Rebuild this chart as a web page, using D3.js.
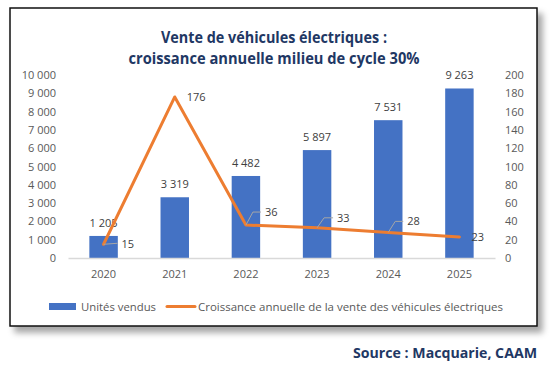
<!DOCTYPE html>
<html>
<head>
<meta charset="utf-8">
<script src="https://cdn.jsdelivr.net/npm/d3@7"></script>
<style>
  body { margin: 0; background: #fff; }
  text { font-family: "Open Sans", "Noto Sans", sans-serif; }
</style>
</head>
<body>
<svg id="chart" width="555" height="371"></svg>
<script>
// chart data
var years = ["2020", "2021", "2022", "2023", "2024", "2025"];
var units = [1205, 3319, 4482, 5897, 7531, 9263];
var growth = [15, 176, 36, 33, 28, 23];
var leftTicks = [0, 1000, 2000, 3000, 4000, 5000, 6000, 7000, 8000, 9000, 10000];
var rightTicks = [0, 20, 40, 60, 80, 100, 120, 140, 160, 180, 200];

var titleLines = ["Vente de véhicules électriques :", "croissance annuelle milieu de cycle 30%"];
var legendLabels = ["Unités vendus", "Croissance annuelle de la vente des véhicules électriques"];
var sourceText = "Source : Macquarie, CAAM";

var navy = "#1f3864", blue = "#4472c4", orange = "#ed7d31", grey = "#595959";

var svg = d3.select("#chart");
var defs = svg.append("defs");
var filt = defs.append("filter").attr("id", "shadow")
    .attr("x", "-5%").attr("y", "-5%").attr("width", "115%").attr("height", "120%");
filt.append("feDropShadow")
    .attr("dx", 5).attr("dy", 6).attr("stdDeviation", 3)
    .attr("flood-color", "#000").attr("flood-opacity", 0.35);

// frame
svg.append("rect")
    .attr("x", 10).attr("y", 8)
    .attr("width", 527).attr("height", 318)
    .attr("fill", "#fff")
    .attr("stroke", "#111")
    .attr("stroke-width", 1.5)
    .attr("filter", "url(#shadow)");

// title
var widths = [226, 291];
svg.selectAll(".title")
    .data(titleLines)
  .enter().append("text")
    .attr("class", "title")
    .attr("x", 274)
    .attr("y", function(d, i) { return 43 + i * 21; })
    .attr("text-anchor", "middle")
    .attr("textLength", function(d, i) { return widths[i]; })
    .attr("lengthAdjust", "spacingAndGlyphs")
    .style("font-size", "16px")
    .style("font-weight", "bold")
    .style("fill", navy)
    .text(function(d) { return d; });

// scales
var x = d3.scaleBand().domain(years).range([68, 495]).paddingInner(0.6).paddingOuter(0.3);
var yL = d3.scaleLinear().domain([0, 10000]).range([258, 75]);
var yR = d3.scaleLinear().domain([0, 200]).range([258, 75]);
var cx = function(i) { return x(years[i]) + x.bandwidth() / 2; };

var fmt = function(v) { return d3.format(",")(v).replace(/,/g, " "); };

// left axis
var axL = svg.append("g").attr("transform", "translate(61,0)")
    .call(d3.axisLeft(yL).tickValues(leftTicks).tickSize(0).tickPadding(5).tickFormat(fmt));
axL.select(".domain").remove();
axL.selectAll("text").style("font-size", "11px").style("fill", grey)
    .style("font-family", "'Open Sans', sans-serif");

// right axis
var axR = svg.append("g").attr("transform", "translate(500,0)")
    .call(d3.axisRight(yR).tickValues(rightTicks).tickSize(0).tickPadding(5));
axR.select(".domain").remove();
axR.selectAll("text").style("font-size", "11px").style("fill", grey)
    .style("font-family", "'Open Sans', sans-serif");

// bars
svg.append("g").selectAll("rect")
    .data(units)
  .enter().append("rect")
    .attr("x", function(d, i) { return x(years[i]); })
    .attr("y", function(d) { return yL(d); })
    .attr("width", x.bandwidth())
    .attr("height", function(d) { return yL(0) - yL(d); })
    .attr("fill", blue);

// bar labels
svg.append("g").selectAll("text")
    .data(units)
  .enter().append("text")
    .attr("x", function(d, i) { return cx(i); })
    .attr("y", function(d) { return yL(d) - 9; })
    .attr("text-anchor", "middle")
    .style("font-size", "11px")
    .style("fill", "#404040")
    .text(function(d) { return fmt(d); });

// x axis
var axB = svg.append("g").attr("transform", "translate(0,258)")
    .call(d3.axisBottom(x).tickSize(0).tickPadding(12));
axB.select(".domain").attr("stroke", "#d9d9d9").attr("stroke-width", 1.5);
axB.selectAll("text").style("font-size", "11px").style("fill", grey)
    .style("font-family", "'Open Sans', sans-serif");

// growth line
var line = d3.line()
    .x(function(d, i) { return cx(i); })
    .y(function(d) { return yR(d); });
svg.append("path")
    .datum(growth)
    .attr("d", line)
    .attr("fill", "none")
    .attr("stroke", orange)
    .attr("stroke-width", 3)
    .attr("stroke-linejoin", "round")
    .attr("stroke-linecap", "round");

// line labels with leader lines (offsets as in the original excel chart)
var lab = [
  {dx: 18, dy: 0, lead: "h"},
  {dx: 12, dy: 0, lead: null},
  {dx: 19, dy: -13, lead: "b"},
  {dx: 20, dy: -10, lead: "b"},
  {dx: 19, dy: -11, lead: "b"},
  {dx: 12, dy: 0, lead: null}
];
var lg = svg.append("g");
growth.forEach(function(v, i) {
  var px = cx(i), py = yR(v), o = lab[i];
  if (o.lead == "h") {
    lg.append("path").attr("d", "M" + px + "," + py + "L" + (px + o.dx - 4) + "," + (py - 1))
      .attr("stroke", "#a6a6a6").attr("fill", "none");
  } else if (o.lead == "b") {
    lg.append("path").attr("d", "M" + px + "," + py + "L" + (px + 7) + "," + (py + o.dy) + "L" + (px + o.dx - 4) + "," + (py + o.dy))
      .attr("stroke", "#a6a6a6").attr("fill", "none");
  }
  lg.append("text")
    .attr("x", px + o.dx)
    .attr("y", py + o.dy + 4)
    .style("font-size", "11px")
    .style("fill", "#404040")
    .text(v);
});

// legend
svg.append("rect").attr("x", 49).attr("y", 303).attr("width", 27).attr("height", 7).attr("fill", blue);
svg.append("line").attr("x1", 167).attr("x2", 195).attr("y1", 306.5).attr("y2", 306.5)
    .attr("stroke", orange).attr("stroke-width", 3).attr("stroke-linecap", "round");
svg.append("text").attr("x", 81).attr("y", 310.5)
    .attr("textLength", 75).attr("lengthAdjust", "spacingAndGlyphs")
    .style("font-size", "11px").style("fill", grey).text(legendLabels[0]);
svg.append("text").attr("x", 198).attr("y", 310.5)
    .attr("textLength", 305).attr("lengthAdjust", "spacingAndGlyphs")
    .style("font-size", "11px").style("fill", grey).text(legendLabels[1]);

// source
svg.append("text")
    .attr("x", 537).attr("y", 358)
    .attr("text-anchor", "end")
    .attr("textLength", 184).attr("lengthAdjust", "spacingAndGlyphs")
    .style("font-size", "15px")
    .style("font-weight", "bold")
    .style("fill", navy)
    .text(sourceText);
</script>
</body>
</html>
